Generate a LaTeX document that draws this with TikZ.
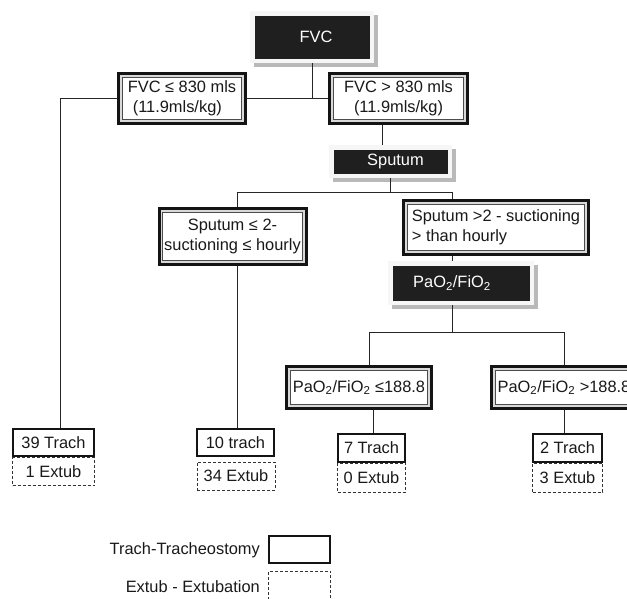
\documentclass[tikz,border=0pt]{standalone}
\usepackage{fontspec}
\setmainfont{Liberation Sans}
\usetikzlibrary{shadows,calc}
\begin{document}
\begin{tikzpicture}[x=1pt,y=-1pt,
  every node/.style={font=\fontsize{16.4pt}{19.5pt}\selectfont, text=black!90, inner sep=0pt},
  dbl/.style={rectangle, draw=black!92, line width=3pt, fill=gray!30,
    path picture={\draw[line width=0.8pt, draw=black!70, fill=white]
      ([shift={(3.8pt,-3.8pt)}]path picture bounding box.north west) rectangle
      ([shift={(-3.8pt,3.8pt)}]path picture bounding box.south east);}},
  blk/.style={rectangle, fill=gray!7, text=white,
    drop shadow={shadow xshift=3.5pt, shadow yshift=-3.5pt, fill=gray!55, opacity=1},
    path picture={\fill[black!88]
      ([shift={(4.5pt,-4.5pt)}]path picture bounding box.north west) rectangle
      ([shift={(-4.5pt,4.5pt)}]path picture bounding box.south east);}},
  trach/.style={rectangle, draw=black!92, line width=2.5pt, fill=white},
  extub/.style={rectangle, draw=black!80, line width=0.8pt, dash pattern=on 3pt off 2pt},
  conn/.style={draw=black!85, line width=0.9pt}
]
\useasboundingbox (0,0) rectangle (627,598);
\clip (0,0) rectangle (627,598);

% black header boxes
\node[blk, minimum width=124, minimum height=52] (fvc) at (312,37) {\hspace*{8pt}FVC};
\node[blk, minimum width=123, minimum height=33] (sputum) at (390.5,161.5) {\hspace*{10pt}Sputum};
\node[blk, minimum width=146, minimum height=44] (pao2) at (461,283) {PaO\textsubscript{2}/FiO\textsubscript{2}\hspace*{18pt}};

% double-framed decision boxes
\node[dbl, minimum width=127, minimum height=50, align=left] (lbox) at (182,98.5) {FVC ≤ 830 mls\\\hspace*{5pt}(11.9mls/kg)};
\node[dbl, minimum width=138, minimum height=50, align=center] (rbox) at (398.5,98.5) {FVC > 830 mls\\(11.9mls/kg)};
\node[dbl, minimum width=147, minimum height=56, align=center] (sl) at (232.5,236.5) {Sputum ≤ 2-\\suctioning ≤ hourly};
\node[dbl, minimum width=185, minimum height=54, align=left] (sr) at (496,227.5) {Sputum >2 - suctioning\\> than hourly};
\node[dbl, minimum width=145, minimum height=42] (ple) at (359,387.5) {PaO\textsubscript{2}/FiO\textsubscript{2} ≤188.8};
\node[dbl, minimum width=145, minimum height=42] (pgt) at (564,387.5) {PaO\textsubscript{2}/FiO\textsubscript{2} >188.8};

% outcome boxes
\node[extub, minimum width=82, minimum height=28] (e1) at (53.5,471.5) {1 Extub};
\node[trach, minimum width=81, minimum height=27] (t39) at (53.5,442.5) {39 Trach};
\node[extub, minimum width=78, minimum height=28] (e34) at (236,476) {34 Extub};
\node[trach, minimum width=77, minimum height=27] (t10) at (235.5,442.5) {10 trach};
\node[extub, minimum width=68, minimum height=29] (e0) at (371.5,477.5) {0 Extub};
\node[trach, minimum width=67, minimum height=28] (t7) at (371.5,448) {7 Trach};
\node[extub, minimum width=70, minimum height=29] (e3) at (567.5,477.5) {3 Extub};
\node[trach, minimum width=69, minimum height=28] (t2) at (567.5,448) {2 Trach};

% legend
\node[trach, minimum width=61, minimum height=27] (lt) at (299.5,549.5) {};
\node[extub, minimum width=62, minimum height=30] (le) at (299.5,586) {};
\node[anchor=east] (ltt) at (260,550) {Trach-Tracheostomy};
\node[anchor=east] (let) at (260,587) {Extub - Extubation};

% connectors
\coordinate (a1) at ([xshift=-16.5pt]rbox.south);
\coordinate (a2) at ([xshift=-44pt]sr.south);
\coordinate (a3) at ([xshift=4.5pt]sl.south);
\coordinate (a4) at ([xshift=14pt]ple.south);
\draw[conn] (fvc.south) -- (fvc.south |- lbox.east);
\draw[conn] (lbox.east) -- (rbox.west);
\draw[conn] (lbox.west) -| ([xshift=6.5pt]t39.north);
\draw[conn] (a1) -- (a1 |- sputum.north);
\draw[conn] (sputum.south) -- ++(0,14) coordinate (j2);
\draw[conn] ([xshift=4.5pt]sl.north) |- (j2) -| ([xshift=-44pt]sr.north);
\draw[conn] (a2) -- (a2 |- pao2.north);
\draw[conn] ([xshift=-9pt]pao2.south) -- ++(0,27) coordinate (j3);
\draw[conn] ([xshift=10pt]ple.north) |- (j3) -| (pgt.north);
\draw[conn] (a3) -- (a3 |- t10.north);
\draw[conn] (a4) -- (a4 |- t7.north);
\draw[conn] (pgt.south) -- (pgt.south |- t2.north);
\end{tikzpicture}
\end{document}
